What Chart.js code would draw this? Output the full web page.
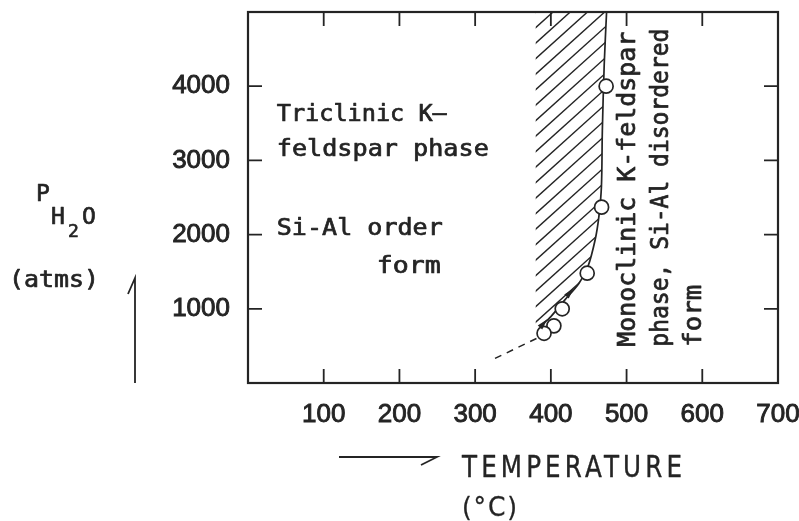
<!DOCTYPE html>
<html>
<head>
<meta charset="utf-8">
<script src="https://cdn.jsdelivr.net/npm/chart.js@4.4.1/dist/chart.umd.min.js"></script>
<style>
  html, body { margin: 0; padding: 0; background: #fff; }
  #wrap { width: 799px; height: 521px; position: relative; }
</style>
</head>
<body>
<div id="wrap"><canvas id="c" width="799" height="521"></canvas></div>
<script>
// Experimental runs: temperature (°C) and water pressure (atm)
const runTemps = [473, 467, 448, 415, 404, 391];
const runPress = [4000, 2370, 1480, 1000, 770, 670];

// Phase boundary, solid part
const boundaryT = [473.6, 470.5, 468, 466.8, 463.5, 458.5, 449, 437, 418.5, 400, 388];
const boundaryP = [5000, 4300, 3400, 2650, 2250, 1930, 1570, 1340, 1120, 895, 780];

// Extrapolated (dashed) part of the boundary
const extrapT = [381, 322];
const extrapP = [600, 310];

// Hatched transition zone (left edge, top, then down along the boundary)
const zoneT = [380, 473.6, 470.5, 468, 466.8, 463.5, 458.5, 449, 437, 418.5, 400, 388, 380];
const zoneP = [5000, 5000, 4300, 3400, 2650, 2250, 1930, 1570, 1340, 1120, 895, 780, 740];

// Direction marks on the boundary
const markT = [425, 390];
const markP = [1215, 800];

// Axis ticks
const xTickValues = [100, 200, 300, 400, 500, 600, 700];
const yTickValues = [1000, 2000, 3000, 4000];

const ink = '#242424';
const mono = '"DejaVu Sans Mono", monospace';
const sans = '"DejaVu Sans", sans-serif';
const tickFamily = '"Liberation Sans", Arial, sans-serif';

const pts = (xs, ys) => xs.map((v, i) => ({ x: v, y: ys[i] }));

// text drawn with a light outline to give a pen-plotter weight,
// optionally stretched along its run to a given length
function penText(ctx, s, x, y, len, weight, spacing) {
  ctx.save();
  ctx.letterSpacing = (spacing || 0) + 'px';
  ctx.translate(x, y);
  if (len) {
    const w = ctx.measureText(s).width - (spacing || 0);
    ctx.scale(len / w, 1);
  }
  ctx.lineWidth = weight || 0.7;
  ctx.lineJoin = 'round';
  ctx.fillText(s, 0, 0);
  ctx.strokeText(s, 0, 0);
  ctx.restore();
}

const decor = {
  id: 'decor',
  beforeDatasetsDraw(chart) {
    const { ctx, chartArea: a, scales: { x, y } } = chart;
    // hatching of the transition zone
    ctx.save();
    ctx.beginPath();
    zoneT.forEach((t, i) => {
      const px = x.getPixelForValue(t), py = y.getPixelForValue(zoneP[i]);
      if (i) ctx.lineTo(px, py); else ctx.moveTo(px, py);
    });
    ctx.closePath();
    ctx.clip();
    ctx.strokeStyle = ink;
    ctx.lineWidth = 1.4;
    const step = 15.5, slope = 0.9;
    for (let c = a.top - 20; c < a.bottom + 600; c += step) {
      ctx.beginPath();
      ctx.moveTo(a.left, c);
      ctx.lineTo(a.right, c - slope * (a.right - a.left));
      ctx.stroke();
    }
    ctx.restore();
  },
  afterDatasetsDraw(chart) {
    const { ctx, chartArea: a, scales: { x, y } } = chart;
    ctx.save();
    ctx.strokeStyle = ink;
    ctx.fillStyle = ink;

    // frame
    ctx.lineWidth = 2.2;
    ctx.strokeRect(a.left, a.top, a.right - a.left, a.bottom - a.top);

    // inward ticks on all four sides
    const tl = 14;
    ctx.lineWidth = 1.8;
    xTickValues.forEach(v => {
      const px = x.getPixelForValue(v);
      if (px >= a.right - 1) return;
      ctx.beginPath();
      ctx.moveTo(px, a.bottom); ctx.lineTo(px, a.bottom - tl);
      ctx.moveTo(px, a.top); ctx.lineTo(px, a.top + tl);
      ctx.stroke();
    });
    yTickValues.forEach(v => {
      const py = y.getPixelForValue(v);
      ctx.beginPath();
      ctx.moveTo(a.left, py); ctx.lineTo(a.left + tl, py);
      ctx.moveTo(a.right, py); ctx.lineTo(a.right - tl, py);
      ctx.stroke();
    });

    // direction marks along the boundary
    markT.forEach((t, i) => {
      const px = x.getPixelForValue(t), py = y.getPixelForValue(markP[i]);
      ctx.save();
      ctx.translate(px, py);
      ctx.rotate(-0.85);
      ctx.beginPath();
      ctx.moveTo(6, 0); ctx.lineTo(-5, -3); ctx.lineTo(-5, 3); ctx.closePath();
      ctx.fill();
      ctx.restore();
    });

    // region labels
    ctx.font = '23px ' + mono;
    ctx.textAlign = 'left';
    ctx.textBaseline = 'alphabetic';
    const put = (s, t, p, len) => penText(ctx, s, x.getPixelForValue(t), y.getPixelForValue(p), len);
    put('Triclinic K\u2013', 38, 3530, 170);
    put('feldspar phase', 38, 3060, 212);
    put('Si-Al order', 38, 1995, 166);
    put('form', 170, 1485, 64);

    const vput = (s, t, p, len) => {
      ctx.save();
      ctx.translate(x.getPixelForValue(t), y.getPixelForValue(p));
      ctx.rotate(-Math.PI / 2);
      ctx.textBaseline = 'middle';
      penText(ctx, s, 0, 0, len);
      ctx.restore();
    };
    ctx.font = '24px ' + mono;
    vput('Monoclinic K-feldspar', 503, 490, 315);
    vput('phase, Si-Al disordered', 546, 490, 318);
    vput('form', 590, 490, 62);

    // y-axis title with arrow
    ctx.font = '23px ' + mono;
    penText(ctx, 'P', 36, 201);
    penText(ctx, 'H', 51, 224);
    penText(ctx, 'O', 82, 224);
    ctx.font = '18px ' + mono;
    penText(ctx, '2', 68, 237);
    ctx.font = '23px ' + mono;
    penText(ctx, '(atms)', 9, 287, 90);

    ctx.lineWidth = 1.8;
    ctx.beginPath();
    ctx.moveTo(135, 383); ctx.lineTo(135, 278); ctx.lineTo(128, 294);
    ctx.stroke();

    // x-axis title with arrow
    ctx.beginPath();
    ctx.moveTo(339, 457); ctx.lineTo(437, 457); ctx.lineTo(421, 465);
    ctx.stroke();
    ctx.font = '30px ' + sans;
    penText(ctx, 'TEMPERATURE', 462, 477, 220, 0.4, 5);
    ctx.font = '27px ' + sans;
    penText(ctx, '(\u00B0C)', 462, 516, 55, 0.3, 2);

    ctx.restore();
  }
};

new Chart(document.getElementById('c'), {
  type: 'scatter',
  data: {
    datasets: [
      {
        data: pts(boundaryT, boundaryP),
        showLine: true, borderColor: ink, borderWidth: 1.7,
        pointRadius: 0, tension: 0.3, order: 3
      },
      {
        data: pts(extrapT, extrapP),
        showLine: true, borderColor: ink, borderWidth: 1.5,
        borderDash: [7, 6], pointRadius: 0, order: 2
      },
      {
        data: pts(runTemps, runPress),
        showLine: false, pointRadius: 7, pointBorderWidth: 1.7,
        pointBackgroundColor: '#fff', pointBorderColor: ink, order: 1
      }
    ]
  },
  options: {
    responsive: false,
    animation: false,
    events: [],
    layout: { padding: { top: 12, right: 21, left: 0, bottom: 0 } },
    plugins: { legend: { display: false }, tooltip: { enabled: false } },
    scales: {
      x: {
        type: 'linear', min: 0, max: 700,
        afterBuildTicks: s => { s.ticks = xTickValues.map(v => ({ value: v })); },
        afterFit: s => { s.height = 138; s.paddingLeft = 0; s.paddingRight = 0; },
        grid: { display: false, drawTicks: false },
        border: { display: false },
        ticks: { color: ink, padding: 16, callback: v => String(v),
                 textStrokeColor: ink, textStrokeWidth: 0.9,
                 font: { family: tickFamily, size: 26 } }
      },
      y: {
        min: 0, max: 5000,
        afterBuildTicks: s => { s.ticks = yTickValues.map(v => ({ value: v })); },
        afterFit: s => { s.width = 248; s.paddingTop = 0; s.paddingBottom = 0; },
        grid: { display: false, drawTicks: false },
        border: { display: false },
        ticks: { color: ink, padding: 18, callback: v => String(v),
                 textStrokeColor: ink, textStrokeWidth: 0.9,
                 font: { family: tickFamily, size: 26 } }
      }
    }
  },
  plugins: [decor]
});
</script>
</body>
</html>
